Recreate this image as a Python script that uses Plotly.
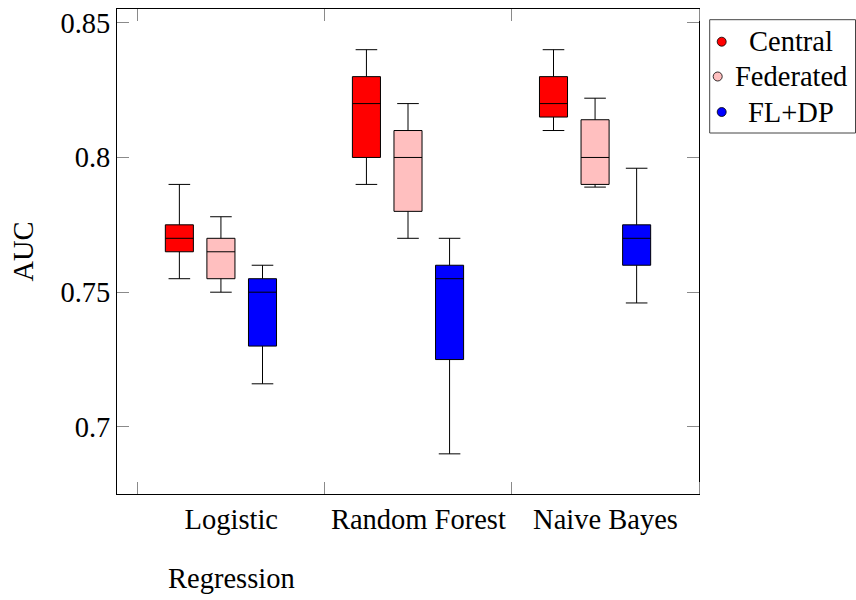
import plotly.graph_objects as go

# ---------------- data ----------------
groups = ["Logistic", "Random Forest", "Naive Bayes"]
group_second_line = ["Regression", "", ""]
series_names = ["Central", "Federated", "FL+DP"]

central_lower = [0.755, 0.790, 0.810]
central_q1 = [0.765, 0.800, 0.815]
central_median = [0.770, 0.820, 0.820]
central_q3 = [0.775, 0.830, 0.830]
central_upper = [0.790, 0.840, 0.840]

federated_lower = [0.750, 0.770, 0.789]
federated_q1 = [0.755, 0.780, 0.790]
federated_median = [0.765, 0.800, 0.800]
federated_q3 = [0.770, 0.810, 0.814]
federated_upper = [0.778, 0.820, 0.822]

fldp_lower = [0.716, 0.690, 0.746]
fldp_q1 = [0.730, 0.725, 0.760]
fldp_median = [0.750, 0.755, 0.770]
fldp_q3 = [0.755, 0.760, 0.775]
fldp_upper = [0.760, 0.770, 0.796]

y_tick_vals = [0.7, 0.75, 0.8, 0.85]
y_tick_text = ["0.7", "0.75", "0.8", "0.85"]

# ---------------- layout geometry / styles ----------------
W, H = 856, 600
ML, MR, MT, MB = 117, 157, 9, 106
PW, PH = W - ML - MR, H - MT - MB
FONT = "Liberation Serif"
FS = 28.5
colors = ["#FF0000", "#FFBFBF", "#0000FF"]
GROUP_GAP = 4.5
X_RANGE = [-0.5, 13.5]
Y_RANGE = [0.6751, 0.8551]


def px_x(px):
    return (px - ML) / PW


def px_y(py):
    return (H - MB - py) / PH


stats = [
    (central_lower, central_q1, central_median, central_q3, central_upper),
    (federated_lower, federated_q1, federated_median, federated_q3, federated_upper),
    (fldp_lower, fldp_q1, fldp_median, fldp_q3, fldp_upper),
]

fig = go.Figure()
for si, (name, st) in enumerate(zip(series_names, stats)):
    lo, q1, med, q3, up = st
    xs = [g * GROUP_GAP + 1 + si for g in range(len(groups))]
    fig.add_trace(go.Box(
        x=xs, q1=q1, median=med, q3=q3, lowerfence=lo, upperfence=up,
        orientation="v", name=name, width=0.675, whiskerwidth=0.77,
        fillcolor=colors[si], line=dict(color="black", width=1),
        boxpoints=False, showlegend=False,
    ))

separators = [g * GROUP_GAP for g in range(len(groups) + 1)]
label_pos = [g * GROUP_GAP + GROUP_GAP / 2 for g in range(len(groups))]

fig.update_layout(
    width=W, height=H,
    margin=dict(l=ML, r=MR, t=MT, b=MB, autoexpand=False),
    paper_bgcolor="white", plot_bgcolor="white",
    font=dict(family=FONT, size=FS, color="black"),
    showlegend=False,
    xaxis=dict(
        range=X_RANGE, tickmode="array", tickvals=label_pos, ticktext=groups,
        ticks="", showline=True, linecolor="black", linewidth=1,
        mirror="ticks", showgrid=False, zeroline=False,
        tickfont=dict(family=FONT, size=FS, color="black"),
        minor=dict(tickmode="array", tickvals=separators, ticks="inside",
                   ticklen=12, tickwidth=1, tickcolor="#8a8a8a", showgrid=False),
    ),
    yaxis=dict(
        range=Y_RANGE, tickmode="array", tickvals=y_tick_vals,
        ticktext=y_tick_text, ticks="inside", ticklen=12, tickwidth=1,
        tickcolor="#8a8a8a", showline=True, linecolor="black", linewidth=1,
        mirror="ticks", showgrid=False, zeroline=False,
        tickfont=dict(family=FONT, size=FS, color="black"),
        title=dict(text="AUC", font=dict(family=FONT, size=FS), standoff=18),
    ),
)

# second line of the first category label
for xp, txt in zip(label_pos, group_second_line):
    if txt:
        fig.add_annotation(x=xp, xref="x", y=px_y(578), yref="paper",
                           text=txt, showarrow=False, xanchor="center",
                           yanchor="middle", font=dict(family=FONT, size=FS))

# legend (drawn manually: centred text, circular markers)
fig.add_shape(type="rect", xref="paper", yref="paper",
              x0=px_x(709.7), x1=px_x(855.5), y0=px_y(133), y1=px_y(19.7),
              line=dict(color="#444", width=1), fillcolor="white", layer="above")
leg_y = [41.7, 76.5, 112]
leg_mx = [721.7, 717.7, 721.7]
R = 4.5
for i, name in enumerate(series_names):
    fig.add_shape(type="circle", xref="paper", yref="paper",
                  x0=px_x(leg_mx[i] - R), x1=px_x(leg_mx[i] + R),
                  y0=px_y(leg_y[i] + R), y1=px_y(leg_y[i] - R),
                  line=dict(color="black", width=0.8), fillcolor=colors[i],
                  layer="above")
    fig.add_annotation(x=px_x(791), xref="paper", y=px_y(leg_y[i]), yref="paper",
                       text=name, showarrow=False, xanchor="center",
                       yanchor="middle", font=dict(family=FONT, size=FS))

fig.write_html("out.html")
